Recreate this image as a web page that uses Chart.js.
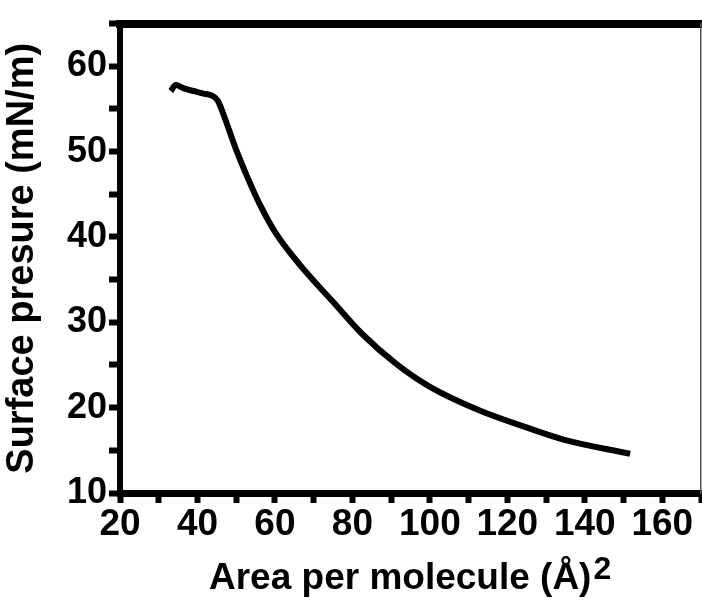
<!DOCTYPE html>
<html>
<head>
<meta charset="utf-8">
<script src="https://cdn.jsdelivr.net/npm/chart.js@4.4.1/dist/chart.umd.min.js"></script>
<style>
  body { margin: 0; background: #fff; }
  #wrap { width: 702px; height: 601px; }
</style>
</head>
<body>
<div id="wrap"><canvas id="isotherm"></canvas></div>
<script>
// isotherm
const areaValues = [33.1, 34.4, 36.5, 39.0, 41.5, 43.5, 45.2, 47.0, 50.0, 53.0, 56.0, 60.0, 66.5, 75.0, 82.6, 91.4, 99.8, 112.7, 125.5, 135.0, 151.7];
const pressureValues = [57.1, 57.8, 57.4, 57.1, 56.8, 56.6, 56.0, 54.0, 50.2, 46.9, 43.9, 40.6, 36.7, 32.4, 28.6, 25.1, 22.5, 19.7, 17.6, 16.2, 14.6];
const xLabels = [20, 40, 60, 80, 100, 120, 140, 160];
const yLabels = [10, 20, 30, 40, 50, 60];

const fontFamily = '"Liberation Sans", Arial, sans-serif';
const xTitle = 'Area per molecule (Å)';
const xTitlePad = '  '; // leaves room for the superscript so the whole thing centres

const points = areaValues.map((a, i) => ({ x: a, y: pressureValues[i] }));

// superscript 2 after the x title
const superscript = {
    id: 'superscript',
    afterDraw(chart) {
        const ctx = chart.ctx;
        ctx.save();
        ctx.font = 'bold 37px ' + fontFamily;
        const fullWidth = ctx.measureText(xTitle + xTitlePad).width;
        const mainWidth = ctx.measureText(xTitle).width;
        const cx = (chart.chartArea.left + chart.chartArea.right) / 2;
        ctx.font = 'bold 32px ' + fontFamily;
        ctx.fillStyle = '#000';
        ctx.textBaseline = 'alphabetic';
        ctx.fillText('2', cx - fullWidth / 2 + mainWidth + 2, chart.scales.x.bottom - 22);
        ctx.restore();
    }
};

new Chart(document.getElementById('isotherm'), {
    type: 'line',
    data: {
        datasets: [{
            data: points,
            borderColor: '#000',
            borderWidth: 6,
            pointRadius: 0,
            cubicInterpolationMode: 'monotone',
            fill: false
        }]
    },
    options: {
        responsive: true,
        maintainAspectRatio: false,
        animation: false,
        layout: { padding: 0 },
        plugins: {
            legend: { display: false },
            tooltip: { enabled: false }
        },
        scales: {
            x: {
                type: 'linear',
                position: 'bottom',
                min: 20,
                max: 170,
                afterFit: s => { s.height = 108; },
                ticks: {
                    stepSize: 10,
                    autoSkip: false,
                    maxRotation: 0,
                    color: '#000',
                    padding: 0,
                    font: { family: fontFamily, size: 37, weight: 'bold' },
                    callback: v => xLabels.includes(v) ? v : ''
                },
                grid: {
                    drawOnChartArea: false,
                    tickLength: 10,
                    tickWidth: 6,
                    tickColor: '#000'
                },
                border: { color: '#000', width: 7 },
                title: {
                    display: true,
                    text: xTitle + xTitlePad,
                    color: '#000',
                    font: { family: fontFamily, size: 37, weight: 'bold' },
                    padding: { top: 0, bottom: 0 }
                }
            },
            xTop: {
                type: 'linear',
                position: 'top',
                min: 20,
                max: 170,
                afterFit: s => { s.height = 15; },
                ticks: { display: false },
                grid: { drawOnChartArea: false, drawTicks: false },
                border: { color: '#000', width: 8 }
            },
            y: {
                type: 'linear',
                position: 'left',
                min: 10,
                max: 65,
                afterFit: s => { s.width = 120; },
                ticks: {
                    stepSize: 5,
                    autoSkip: false,
                    color: '#000',
                    padding: 2,
                    font: { family: fontFamily, size: 36, weight: 'bold' },
                    callback: v => yLabels.includes(v) ? v : ''
                },
                grid: {
                    drawOnChartArea: false,
                    tickLength: 11,
                    tickWidth: 6,
                    tickColor: '#000'
                },
                border: { color: '#000', width: 6 },
                title: {
                    display: true,
                    text: 'Surface presure (mN/m)',
                    color: '#000',
                    font: { family: fontFamily, size: 38, weight: 'bold' },
                    padding: { top: 0, bottom: 2 }
                }
            },
            yRight: {
                type: 'linear',
                position: 'right',
                min: 10,
                max: 65,
                afterFit: s => { s.width = 1; },
                ticks: { display: false },
                grid: { drawOnChartArea: false, drawTicks: false },
                border: { color: '#555', width: 1.5 }
            }
        }
    },
    plugins: [superscript]
});
</script>
</body>
</html>
